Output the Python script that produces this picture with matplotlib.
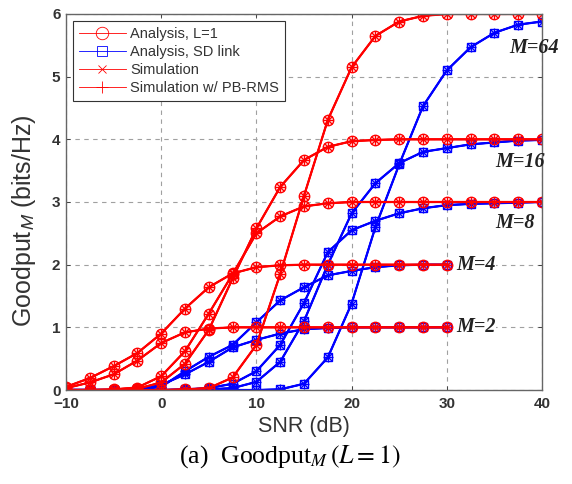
import matplotlib
matplotlib.use("Agg")
import matplotlib.pyplot as plt
from matplotlib.lines import Line2D

plt.rcParams['font.family'] = ['Liberation Sans', 'DejaVu Sans']
plt.rcParams['mathtext.fontset'] = 'stix'

# SNR grid (dB); M=2 and M=4 curves stop at 30 dB
snr = [-10, -7.5, -5, -2.5, 0, 2.5, 5, 7.5, 10, 12.5, 15, 17.5, 20,
       22.5, 25, 27.5, 30, 32.5, 35, 37.5, 40]
snr_short = snr[:17]

# Analysis, L=1
l1_m2 = [0.03, 0.12, 0.25, 0.47, 0.75, 0.92, 0.98, 1.0, 1.0, 1.0, 1.0, 1.0,
         1.0, 1.0, 1.0, 1.0, 1.0]
l1_m4 = [0.05, 0.19, 0.38, 0.59, 0.90, 1.30, 1.64, 1.86, 1.96, 1.99, 2.0,
         2.0, 2.0, 2.0, 2.0, 2.0, 2.0]
l1_m8 = [0.0, 0.0, 0.01, 0.04, 0.22, 0.62, 1.22, 1.85, 2.50, 2.77, 2.93,
         2.98, 3.0, 3.0, 3.0, 3.0, 3.0, 3.0, 3.0, 3.0, 3.0]
l1_m16 = [0.0, 0.0, 0.0, 0.02, 0.12, 0.42, 0.96, 1.78, 2.58, 3.24, 3.67,
          3.88, 3.97, 3.99, 4.0, 4.0, 4.0, 4.0, 4.0, 4.0, 4.0]
l1_m64 = [0.0, 0.0, 0.0, 0.0, 0.0, 0.01, 0.03, 0.2, 0.72, 1.85, 3.1, 4.31,
          5.15, 5.65, 5.88, 5.97, 6.0, 6.0, 6.0, 6.0, 6.0]

# Analysis, SD link
sd_m2 = [0.0, 0.0, 0.0, 0.01, 0.08, 0.25, 0.45, 0.68, 0.80, 0.90, 0.97,
         0.99, 1.0, 1.0, 1.0, 1.0, 1.0]
sd_m4 = [0.0, 0.0, 0.0, 0.01, 0.05, 0.30, 0.53, 0.72, 1.08, 1.43, 1.64,
         1.83, 1.90, 1.96, 1.99, 2.0, 2.0]
sd_m8 = [0.0, 0.0, 0.0, 0.0, 0.0, 0.01, 0.03, 0.10, 0.30, 0.72, 1.39, 2.20,
         2.55, 2.70, 2.82, 2.90, 2.95, 2.97, 2.98, 2.99, 3.0]
sd_m16 = [0.0, 0.0, 0.0, 0.0, 0.0, 0.0, 0.01, 0.03, 0.13, 0.45, 1.10, 2.0,
          2.82, 3.30, 3.62, 3.80, 3.86, 3.92, 3.95, 3.98, 3.99]
sd_m64 = [0.0, 0.0, 0.0, 0.0, 0.0, 0.0, 0.0, 0.0, 0.0, 0.01, 0.10, 0.52,
          1.38, 2.60, 3.60, 4.53, 5.10, 5.47, 5.70, 5.83, 5.88]

curve_labels = ['M=64', 'M=16', 'M=8', 'M=4', 'M=2']
label_pos = [(36.6, 5.45), (35.1, 3.64), (35.1, 2.66), (31.0, 2.0), (31.0, 1.0)]

RED = '#ff0000'
BLUE = '#0000ff'
INK = '#333333'

fig = plt.figure(figsize=(5.72, 4.84), dpi=100)
ax = fig.add_axes([0.1154, 0.1942, 0.8322, 0.7769])

sd_sets = [(snr, sd_m64), (snr, sd_m16), (snr, sd_m8),
           (snr_short, sd_m4), (snr_short, sd_m2)]
l1_sets = [(snr, l1_m64), (snr, l1_m16), (snr, l1_m8),
           (snr_short, l1_m4), (snr_short, l1_m2)]


def draw_family(sets, color, marker, ms):
    # analysis curve plus the two simulation runs on top of it
    for x, y in sets:
        ax.plot(x, y, color=color, lw=1.6, marker=marker, ms=ms,
                mfc='none', mec=color, mew=1.0)
        ax.plot(x, y, color=color, lw=1.2, marker='x', ms=6,
                mec=color, mew=1.0)
        ax.plot(x, y, color=color, lw=1.2, marker='+', ms=7,
                mec=color, mew=1.0)


draw_family(sd_sets, BLUE, 's', 6)
draw_family(l1_sets, RED, 'o', 7.5)

for txt, (tx, ty) in zip(curve_labels, label_pos):
    t = ax.text(tx, ty, txt, fontsize=14.5, fontweight='bold', style='italic',
                family='Liberation Serif', ha='left', va='center',
                color='#222222', clip_on=False, zorder=5)
    if txt in ('M=4', 'M=2'):
        t.set_bbox(dict(facecolor='white', edgecolor='none', pad=0.5))

ax.set_xlim(-10, 40)
ax.set_ylim(0, 6)
ax.set_xticks([-10, 0, 10, 20, 30, 40])
ax.set_yticks([0, 1, 2, 3, 4, 5, 6])
ax.grid(True, color='#a0a0a0', linestyle=(0, (4, 4)), lw=0.8)
ax.tick_params(direction='in', top=True, right=True, labelsize=11,
               colors=INK, length=3, width=0.6)
ax.tick_params(axis='x', pad=5)
ax.tick_params(axis='y', pad=4)
for lab in ax.get_xticklabels() + ax.get_yticklabels():
    lab.set_fontweight('bold')
for sp in ax.spines.values():
    sp.set_color('#666666')
    sp.set_linewidth(1.0)

ax.set_xlabel('SNR (dB)', fontsize=15.5, color=INK)
ax.xaxis.set_label_coords(0.5, -0.068)
ax.set_ylabel(r'Goodput$_{\mathsf{M}}$ (bits/Hz)', fontsize=18, color=INK)
ax.yaxis.set_label_coords(-0.058, 0.45)

handles = [
    Line2D([], [], color=RED, lw=0.6, marker='o', ms=9, mfc='none', mew=0.6),
    Line2D([], [], color=BLUE, lw=0.6, marker='s', ms=7, mfc='none', mew=0.6),
    Line2D([], [], color=RED, lw=0.6, marker='x', ms=6, mew=0.6),
    Line2D([], [], color=RED, lw=0.6, marker='+', ms=9, mew=0.6),
]
names = ['Analysis, L=1', 'Analysis, SD link', 'Simulation',
         'Simulation w/ PB-RMS']
leg = ax.legend(handles, names, loc='upper left', fontsize=10.5,
                handlelength=3.2, borderaxespad=0.5, labelspacing=0.28,
                fancybox=False, framealpha=1, edgecolor=INK,
                borderpad=0.4, handletextpad=0.3)
leg.get_frame().set_linewidth(0.8)
for t in leg.get_texts():
    t.set_color(INK)

fig.text(0.507, 0.056, r'(a)  Goodput$_{M}$$\,\left(L=1\right)$',
         ha='center', va='center', fontsize=18.5, family='Liberation Serif')

fig.savefig('out.png', dpi=100)
